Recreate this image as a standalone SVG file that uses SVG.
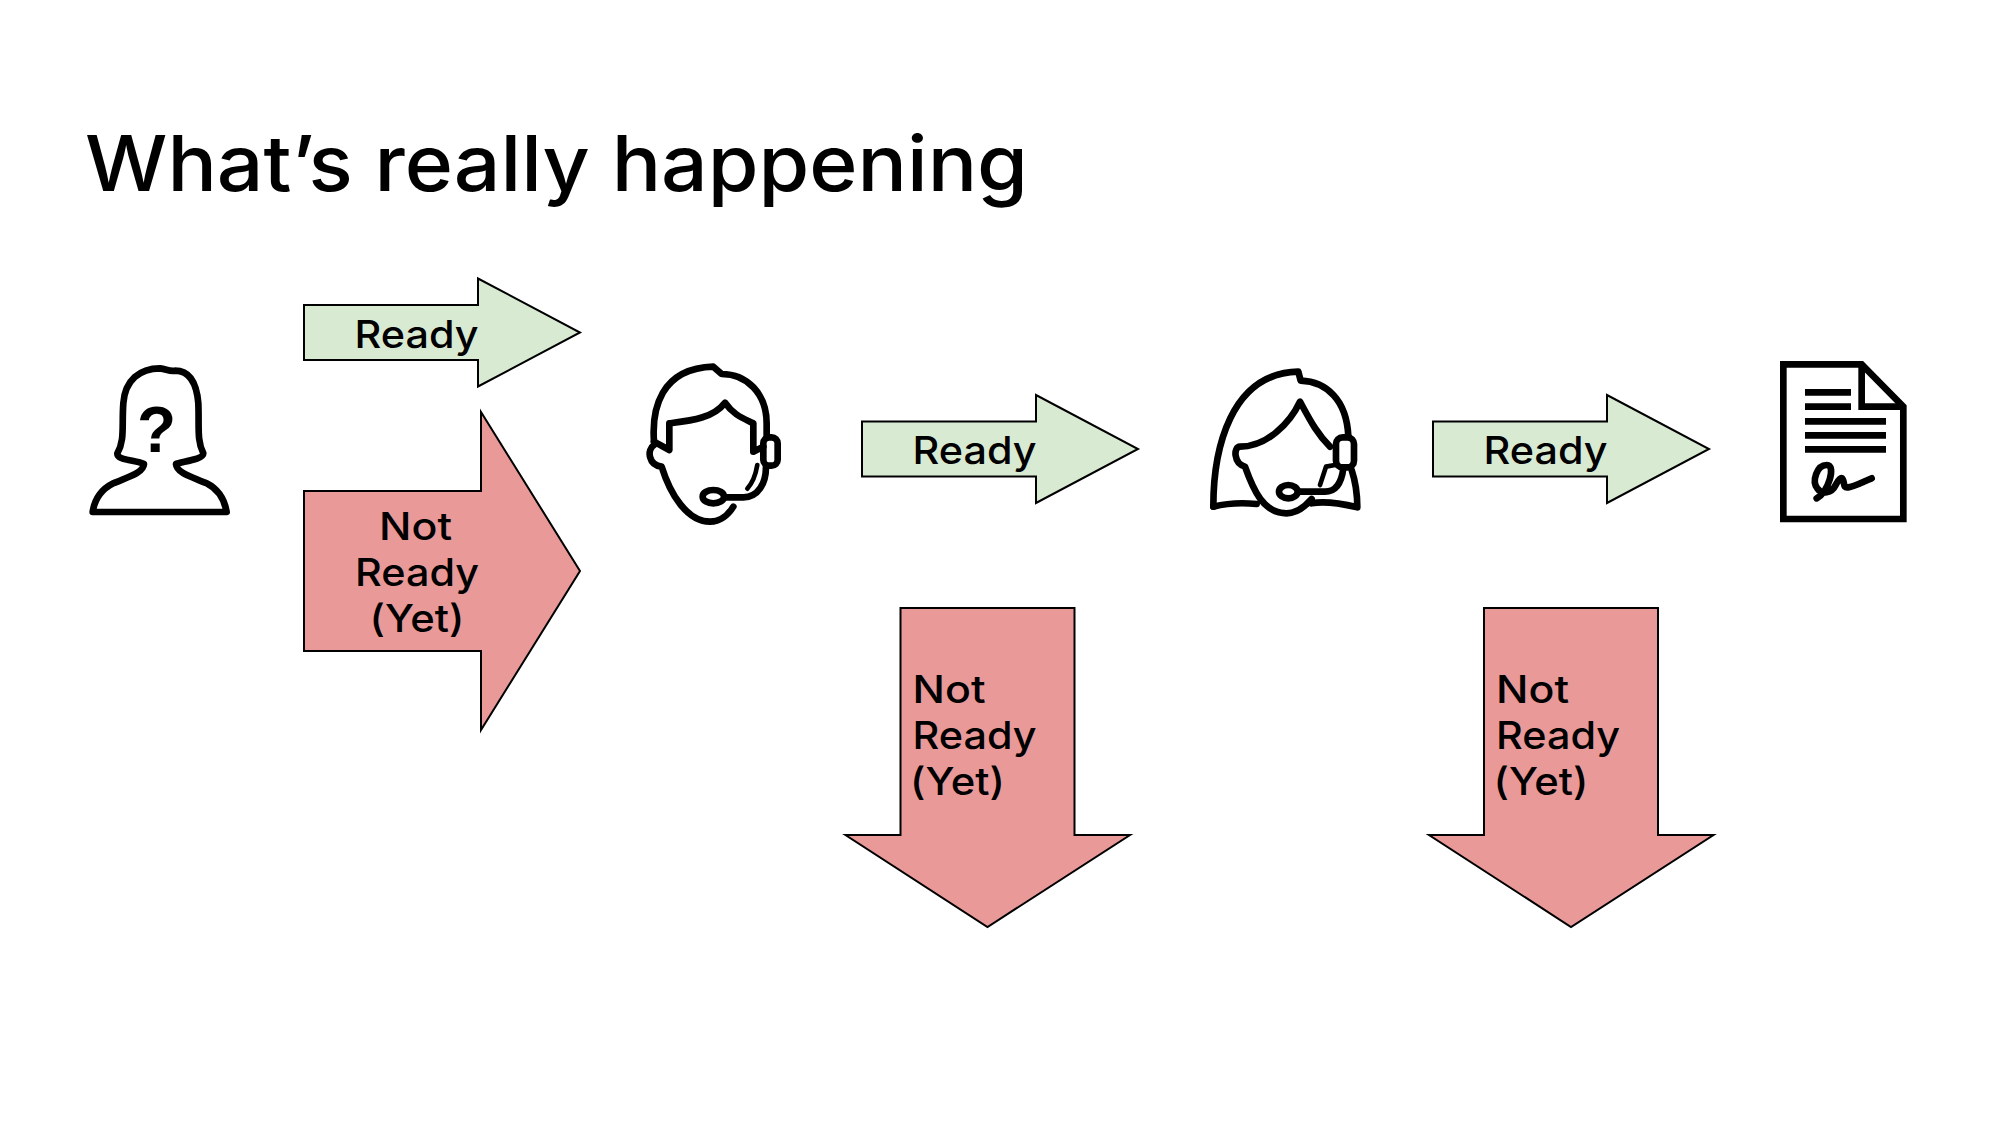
<svg xmlns="http://www.w3.org/2000/svg" width="2000" height="1125" viewBox="0 0 2000 1125">
<style>
text{font-family:"Inter","Noto Sans","Liberation Sans",sans-serif;fill:#000}
.t{font-size:77px;font-weight:500}
.l{font-size:38px;font-weight:500}
.q{font-size:64px;font-weight:700;font-family:"Liberation Sans",sans-serif}
.g{fill:#D9EAD3;stroke:#000;stroke-width:2}
.r{fill:#EA9999;stroke:#000;stroke-width:2}
.i{fill:none;stroke:#000;stroke-width:20;stroke-linejoin:round;stroke-linecap:round}
.b{stroke-width:14}
.d{stroke-linecap:butt;stroke-linejoin:miter}
</style>
<defs>
<path id="ra" d="M0,-27.5H174V-54L276,0L174,54V27.5H0Z"/>
<path id="da" d="M0,0H174V227H229.5L87,319L-55,227H0Z"/>
</defs>
<rect width="2000" height="1125" fill="#fff"/>
<text class="t" x="85" y="191" textLength="943" lengthAdjust="spacingAndGlyphs">What’s really happening</text>
<g id="person-unknown" transform="translate(60,340) scale(.3333)">
<path class="i" d="M98,516C105,470 130,445 160,430C200,412 250,400 252,372C230,360 170,362 172,340C195,300 185,260 190,190C195,120 240,85 300,85C320,88 330,95 345,92C390,92 410,130 415,190C418,260 410,300 430,340C430,360 360,365 348,372C350,400 400,412 440,430C470,445 492,470 500,516Z"/>
<text class="q" transform="scale(3)" x="96.5" y="112" text-anchor="middle">?</text>
</g>
<g id="agent-male" transform="translate(630,350) scale(.3333)">
<path class="i" d="M72,275C65,180 90,55 250,50L275,72C350,72 410,130 410,220V262"/>
<path class="i" d="M72,275L118,300V220C180,212 250,205 285,158C310,195 340,205 370,220V305L400,290"/>
<path class="i" d="M72,285C50,300 55,345 95,350C120,430 170,515 240,515C270,515 295,495 310,470"/>
<rect class="i" x="400" y="262" width="43" height="85" rx="18"/>
<path class="i" d="M408,350C408,400 385,442 340,442H285"/>
<ellipse class="i" cx="250" cy="440" rx="32" ry="20"/>
<path class="i b" d="M382,345C377,375 367,400 352,416"/>
</g>
<g id="agent-female" transform="translate(1200,350) scale(.3333)">
<path class="i" d="M40,470C40,300 90,70 295,65L302,92C380,95 440,150 445,258"/>
<path class="i" d="M455,360C465,390 472,430 472,472C430,462 380,452 335,460"/>
<path class="i" d="M40,470C80,460 130,458 170,462"/>
<path class="i" d="M390,290C350,250 330,210 300,155C270,220 200,290 120,290C100,290 100,340 135,350C160,420 190,490 260,490C290,490 315,470 335,447"/>
<rect class="i" x="408" y="262" width="54" height="90" rx="20"/>
<path class="i" d="M430,355C425,395 410,425 375,425H298"/>
<ellipse class="i" cx="265" cy="425" rx="28" ry="20"/>
<path class="i b" d="M360,405L378,350L405,345"/>
</g>
<g id="document" transform="translate(1770,350) scale(.3333)">
<path class="i d" d="M40,43H275L400,170V507H40Z"/>
<path class="i d" d="M275,43V170H400"/>
<path class="i d" d="M105,127H243M105,170H243M105,214H348M105,256H348M105,298H348"/>
<path class="i" d="M140,445C175,425 200,345 170,345C140,345 125,395 142,415C155,435 185,430 197,405C205,388 215,380 218,387C225,400 218,415 235,412C255,410 280,395 305,385"/>
</g>
<g id="connectors">
<g id="ready-1"><use href="#ra" class="g" transform="translate(304,332.5)"/><text class="l" x="354.5" y="348" textLength="124" lengthAdjust="spacingAndGlyphs">Ready</text></g>
<g id="not-ready-1"><path class="r" d="M304,491H481V412L580,571L481,730V651H304Z"/>
<text class="l" x="379" y="540" textLength="73" lengthAdjust="spacingAndGlyphs">Not</text>
<text class="l" x="355" y="586" textLength="124" lengthAdjust="spacingAndGlyphs">Ready</text>
<text class="l" x="369.5" y="632" textLength="95" lengthAdjust="spacingAndGlyphs">(Yet)</text></g>
<g id="ready-2"><use href="#ra" class="g" transform="translate(862,449)"/><text class="l" x="912.5" y="463.5" textLength="124" lengthAdjust="spacingAndGlyphs">Ready</text></g>
<g id="not-ready-2"><use href="#da" class="r" transform="translate(900.5,608)"/>
<text class="l" x="912.5" y="703" textLength="73" lengthAdjust="spacingAndGlyphs">Not</text>
<text class="l" x="912.5" y="749" textLength="124" lengthAdjust="spacingAndGlyphs">Ready</text>
<text class="l" x="910" y="795" textLength="95" lengthAdjust="spacingAndGlyphs">(Yet)</text></g>
<g id="ready-3"><use href="#ra" class="g" transform="translate(1433,449)"/><text class="l" x="1483.5" y="463.5" textLength="124" lengthAdjust="spacingAndGlyphs">Ready</text></g>
<g id="not-ready-3"><use href="#da" class="r" transform="translate(1484,608)"/>
<text class="l" x="1496" y="703" textLength="73" lengthAdjust="spacingAndGlyphs">Not</text>
<text class="l" x="1496" y="749" textLength="124" lengthAdjust="spacingAndGlyphs">Ready</text>
<text class="l" x="1493.5" y="795" textLength="95" lengthAdjust="spacingAndGlyphs">(Yet)</text></g>
</g>
</svg>
